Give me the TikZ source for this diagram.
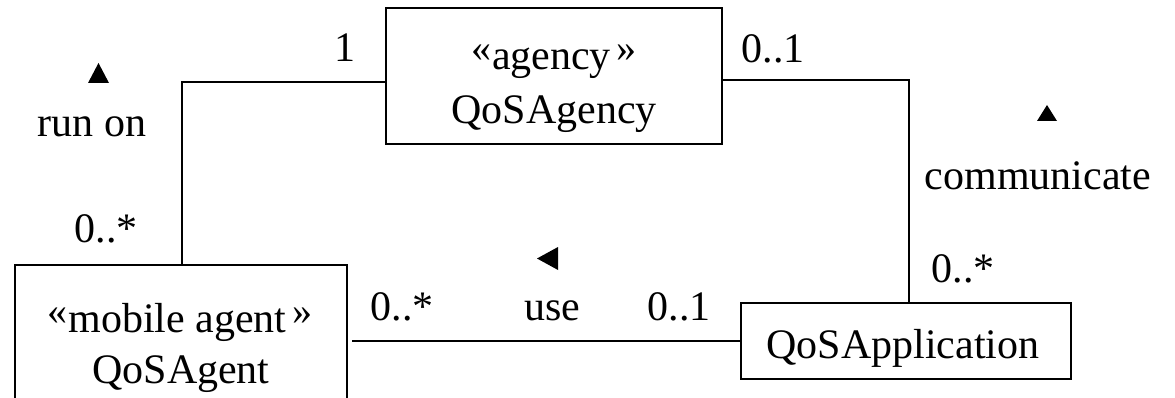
\documentclass[tikz,border=0pt]{standalone}
\usepackage{fontspec}
\setmainfont{Liberation Serif}
\newcommand\myguil[1]{{\fontsize{40}{40}\selectfont\raisebox{8pt}{#1}}}
\begin{document}
\begin{tikzpicture}[x=1pt,y=-1pt,
  umlbox/.style={draw, line width=2pt, rectangle, inner sep=0pt},
  conn/.style={draw, line width=2pt},
  lbl/.style={anchor=base, inner sep=0pt, font=\fontsize{42}{50}\selectfont},
  tri/.style={fill=black, draw=none}]
\useasboundingbox (0,0) rectangle (1175,398);
% boxes
\node[umlbox, minimum width=336pt, minimum height=136pt] (agency) at (554,76) {};
\node[umlbox, minimum width=332pt, minimum height=170pt] (agent) at (181,350) {};
\node[umlbox, minimum width=330pt, minimum height=76pt] (app) at (906,341) {};
% box texts
\node[lbl] (t1) at (554,70) {\myguil{«}\kern1pt agency\kern6pt\myguil{»}};
\node[lbl] (t2) at (554,124) {QoSAgency};
\node[lbl] (t3) at (180,332) {\myguil{«}\kern1pt mobile agent\kern6pt\myguil{»}};
\node[lbl] (t4) at (181,383) {QoSAgent};
\node[lbl] (t5) at (903,358) {QoSApplication};
% connectors
\draw[conn] ([yshift=-6pt]agency.west) -| ([xshift=1pt]agent.north);
\draw[conn] ([yshift=-4pt]agency.east) -| ([xshift=3pt]app.north);
\draw[conn] (app.west) -- ([xshift=4pt]agent.east |- app.west);
% association labels
\node[lbl] (m1) at (345,62) {1};
\node[lbl] (m2) at (773,63) {0..1};
\node[lbl] (m3) at (106,243) {0..*};
\node[lbl] (r1) at (92,137) {run on};
\node[lbl] (r2) at (1038,190) {communicate};
\node[lbl] (m4) at (963,282) {0..*};
\node[lbl] (m5) at (402,320) {0..*};
\node[lbl] (r3) at (552,320) {use};
\node[lbl] (m6) at (679,320) {0..1};
% direction triangles
\fill[tri] (88,83) -- (109,83) -- (98.5,63) -- cycle;
\fill[tri] (1037,121) -- (1057,121) -- (1047,105) -- cycle;
\fill[tri] (558,247) -- (558,270) -- (537,258.5) -- cycle;
\end{tikzpicture}
\end{document}
